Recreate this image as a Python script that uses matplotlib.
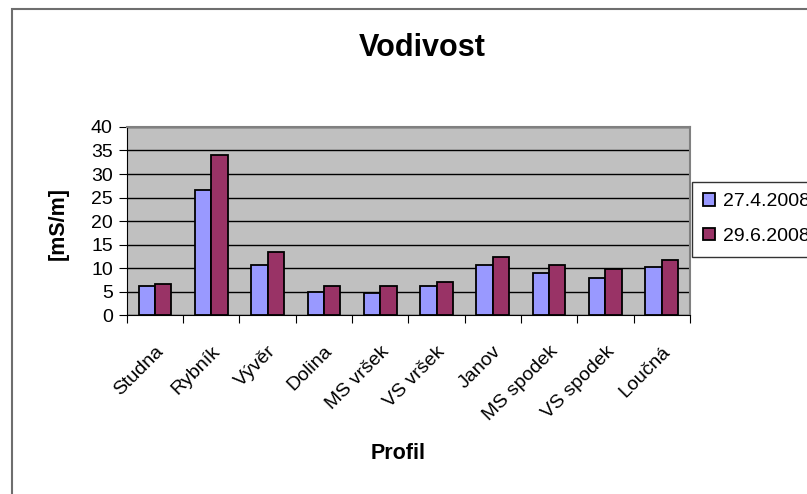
#! /usr/bin/env python3
'''
Vodivost - grouped bar chart, two sampling dates per profile.
'''

import matplotlib
matplotlib.use('Agg')
import matplotlib.pyplot as plt
from matplotlib.patches import Rectangle
import numpy as np

profiles = ['Studna', 'Rybník', 'Vývěr', 'Dolina', 'MS vršek', 'VS vršek',
            'Janov', 'MS spodek', 'VS spodek', 'Loučná']
series_names = ['27.4.2008', '29.6.2008']
values_apr = [6.2, 26.7, 10.6, 5.0, 4.7, 6.2, 10.6, 8.9, 7.9, 10.2]
values_jun = [6.7, 34.0, 13.4, 6.2, 6.2, 7.0, 12.3, 10.6, 9.8, 11.8]
y_ticks = [0, 5, 10, 15, 20, 25, 30, 35, 40]


def main():
    plt.rcParams['font.family'] = ['Liberation Sans', 'DejaVu Sans']
    fig = plt.figure(figsize=(8.07, 4.94), dpi=100)
    fig.patch.set_facecolor('white')

    # outer chart frame, running off the right and bottom edges
    fig.patches.append(Rectangle(
        (12 / 807, -0.1), 1.2, 1 - 9 / 494 + 0.1,
        transform=fig.transFigure, fill=False,
        edgecolor='#6e6e6e', linewidth=1.5))

    ax = fig.add_axes([0.157, 0.362, 0.698, 0.381])
    ax.set_facecolor('#c0c0c0')

    x = np.arange(len(profiles))
    w = 0.29
    ax.bar(x - w / 2, values_apr, w, color='#9999ff', edgecolor='black',
           linewidth=1.3, label=series_names[0], zorder=3)
    ax.bar(x + w / 2, values_jun, w, color='#993366', edgecolor='black',
           linewidth=1.3, label=series_names[1], zorder=3)

    ax.set_xlim(-0.5, len(profiles) - 0.5)
    ax.set_ylim(0, 40)
    ax.set_yticks(y_ticks)
    ax.tick_params(axis='y', labelsize=14, length=6, direction='out',
                   pad=4)
    ax.yaxis.grid(True, color='black', linewidth=1, zorder=0)

    # ticks between categories, labels centred under each group
    ax.set_xticks(np.arange(len(profiles) + 1) - 0.5)
    ax.set_xticklabels([])
    ax.set_xticks(x, minor=True)
    ax.set_xticklabels(profiles, minor=True, rotation=45, ha='right',
                       rotation_mode='anchor', fontsize=14)
    ax.tick_params(axis='x', which='major', length=6, direction='out')
    ax.tick_params(axis='x', which='minor', length=0, pad=20)

    for side in ('top', 'right'):
        ax.spines[side].set_color('#808080')
        ax.spines[side].set_linewidth(1.5)
    ax.spines['left'].set_color('black')
    ax.spines['bottom'].set_color('black')

    fig.text(0.523, 0.903, 'Vodivost', ha='center', va='center',
             fontsize=22, fontweight='bold')
    fig.text(0.072, 0.548, '[mS/m]', ha='center', va='center',
             rotation=90, fontsize=15.5, fontweight='bold')
    fig.text(0.493, 0.081, 'Profil', ha='center', va='center',
             fontsize=15.5, fontweight='bold')

    leg = fig.legend(loc='upper left', bbox_to_anchor=(0.857, 0.632),
                     fontsize=14, frameon=True, fancybox=False,
                     edgecolor='black', handlelength=0.6, handleheight=0.6,
                     handletextpad=0.4, labelspacing=0.9, borderpad=0.6,
                     borderaxespad=0)
    leg.get_frame().set_linewidth(1)

    fig.savefig('out.png', dpi=100)


if __name__ == '__main__':
    main()
